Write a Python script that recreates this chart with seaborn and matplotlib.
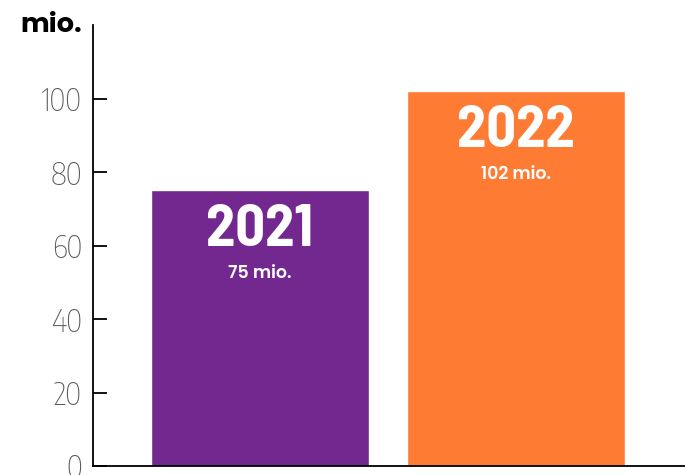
import matplotlib
matplotlib.use("Agg")
import matplotlib.pyplot as plt
import seaborn as sns
import pandas as pd

# data
years = ["2021", "2022"]
values = [75, 102]
value_labels = ["75 mio.", "102 mio."]
bar_colors = ["#73288F", "#FE7B33"]
y_ticks = [0, 20, 40, 60, 80, 100]

sns.set_theme(style="white")
plt.rcParams['font.family'] = ['DejaVu Sans']

big_font = ["Barlow Semi Condensed", "DejaVu Sans"]
small_font = ["Poppins", "DejaVu Sans"]
tick_font = ["Encode Sans Condensed", "DejaVu Sans"]

df = pd.DataFrame({"year": years, "value": values})

fig = plt.figure(figsize=(6.85, 4.75), dpi=100)
ax = fig.add_axes([0.1358, 0.019, 0.8642, 0.928])

sns.barplot(data=df, x="year", y="value", hue="year", palette=bar_colors,
            width=0.85, legend=False, ax=ax, saturation=1)

ax.set_ylim(0, 120)
ax.set_xlim(-0.65, 1.66)
ax.set_yticks(y_ticks)
ax.set_xticks([])
ax.set_xlabel("")
ax.set_ylabel("")

for side in ["top", "right"]:
    ax.spines[side].set_visible(False)
for side in ["left", "bottom"]:
    ax.spines[side].set_color("black")
    ax.spines[side].set_linewidth(1.3)

ax.tick_params(axis="y", direction="in", length=10, width=1.3, color="black",
               labelsize=22, labelcolor="#5a5a5a", pad=8, left=True)
for lbl in ax.get_yticklabels():
    lbl.set_fontfamily(tick_font)
    lbl.set_fontweight(250)

# labels inside bars
for i, (yr, v, lab) in enumerate(zip(years, values, value_labels)):
    ax.annotate(yr, (i, v), xytext=(0, -29), textcoords="offset points",
                ha="center", va="center", color="white", fontsize=42,
                fontweight="bold", family=big_font)
    ax.annotate(lab, (i, v), xytext=(0, -60), textcoords="offset points",
                ha="center", va="center", color="white", fontsize=12.5,
                fontweight=600, family=small_font)

fig.text(20 / 685, 1 - 25 / 475, "mio.", ha="left", va="center",
         fontsize=19.5, fontweight="bold", color="black", family=small_font)

plt.savefig("out.png", dpi=100)
